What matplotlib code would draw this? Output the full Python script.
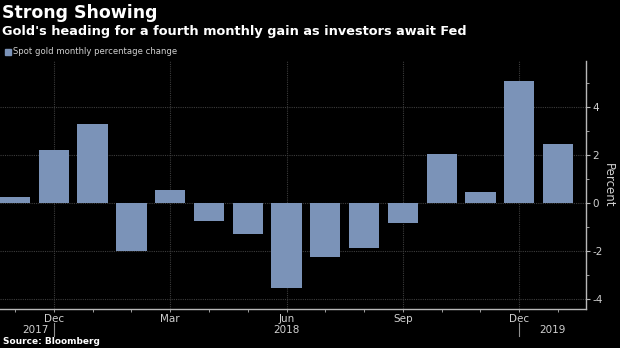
import matplotlib
matplotlib.use("Agg")
import matplotlib.pyplot as plt
from matplotlib.ticker import FixedLocator
from matplotlib.patches import Rectangle

# Spot gold, monthly percentage change (Nov 2017 - Jan 2019)
months = ["Nov", "Dec", "Jan", "Feb", "Mar", "Apr", "May", "Jun",
          "Jul", "Aug", "Sep", "Oct", "Nov", "Dec", "Jan"]
pct_change = [0.27, 2.21, 3.29, -1.98, 0.55, -0.74, -1.27, -3.51,
              -2.25, -1.86, -0.83, 2.03, 0.47, 5.10, 2.48]
labelled_months = ["Dec", "Mar", "Jun", "Sep", "Dec"]
labelled_idx = [1, 4, 7, 10, 13]
years = ["2017", "2018", "2019"]
year_pos = [0.52, 7.0, 13.85]
year_dividers = [1, 13]
y_ticks = [-4, -2, 0, 2, 4]

BG = "#000000"
BAR = "#7b93b8"
TXT = "#d0d0d0"
GRID = "#3c3c3c"
AXIS = "#b8b8b8"

fig = plt.figure(figsize=(6.2, 3.48), dpi=100, facecolor=BG)
ax = fig.add_axes([0.0, 1 - 309 / 348, 586 / 620, (309 - 61) / 348])
ax.set_facecolor(BG)

x = list(range(len(pct_change)))
ax.bar(x, pct_change, width=0.78, color=BAR, zorder=3)

ax.set_xlim(-0.387, 14.72)
ax.set_ylim(-4.4, 5.92)

# spines
for s in ("top", "left"):
    ax.spines[s].set_visible(False)
for s in ("right", "bottom"):
    ax.spines[s].set_color(AXIS)
    ax.spines[s].set_linewidth(1.0)

# y axis on the right
ax.yaxis.tick_right()
ax.yaxis.set_label_position("right")
ax.yaxis.set_major_locator(FixedLocator(y_ticks))
ax.yaxis.set_minor_locator(FixedLocator([-3, -1, 1, 3, 5]))
ax.set_yticklabels([str(v) for v in y_ticks])
ax.tick_params(axis="y", which="major", length=3, width=0.8, color=AXIS,
               labelcolor=TXT, labelsize=7.5, pad=1.5)
ax.tick_params(axis="y", which="minor", length=2, width=0.6, color=AXIS)
ax.set_ylabel("Percent", color=TXT, fontsize=8.5, rotation=270, labelpad=9)

# x axis: month ticks, labelled quarterly
ax.xaxis.set_major_locator(FixedLocator(labelled_idx))
ax.xaxis.set_minor_locator(FixedLocator(x))
ax.set_xticklabels(labelled_months)
ax.tick_params(axis="x", which="both", length=2, width=0.6, color=AXIS,
               labelcolor=TXT, labelsize=7.5, pad=1.5)

# grid
ax.grid(True, which="major", axis="both", color=GRID, linestyle=(0, (1, 1)),
        linewidth=0.8, zorder=0)

# year labels and dividers below the axis
trans = ax.get_xaxis_transform()
for yr, pos in zip(years, year_pos):
    ax.text(pos, -0.085, yr, transform=trans, ha="center", va="center",
            color=TXT, fontsize=7.5)
for d in year_dividers:
    ax.plot([d, d], [-0.057, -0.107], transform=trans, color="#909090",
            lw=0.8, clip_on=False)

# titles
fig.text(0.003, 1 - 13 / 348, "Strong Showing", color="white", fontsize=12.5,
         fontweight="bold", ha="left", va="center")
fig.text(0.003, 1 - 32 / 348,
         "Gold's heading for a fourth monthly gain as investors await Fed",
         color="white", fontsize=9.3, fontweight="bold", ha="left", va="center")

# legend
fig.patches.append(Rectangle((5 / 620, 1 - 55 / 348), 6 / 620, 6 / 348,
                             transform=fig.transFigure, color=BAR))
fig.text(13 / 620, 1 - 52 / 348, "Spot gold monthly percentage change",
         color=TXT, fontsize=6.1, ha="left", va="center")

# source
fig.text(0.005, 1 - 342 / 348, "Source: Bloomberg", color="white",
         fontsize=6.5, fontweight="bold", ha="left", va="center")

fig.savefig("out.png", dpi=100, facecolor=BG)
